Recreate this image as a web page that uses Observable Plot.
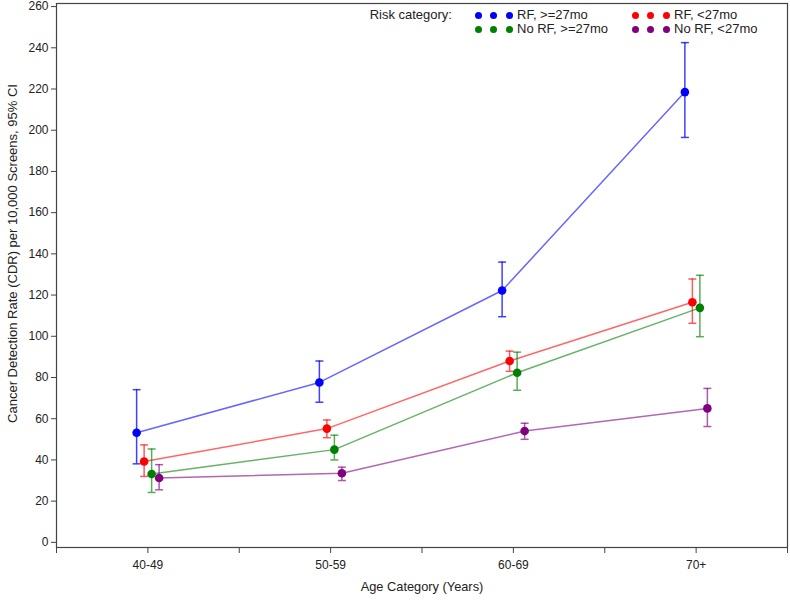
<!DOCTYPE html>
<html>
<head>
<meta charset="utf-8">
<script src="https://cdn.jsdelivr.net/npm/d3@7"></script>
<script src="https://cdn.jsdelivr.net/npm/@observablehq/plot@0.6"></script>
<style>
  body { margin: 0; background: #fff; }
  #wrap { position: relative; width: 790px; height: 600px; font-family: "Liberation Sans", Arial, sans-serif; color: #222; }
  #legend { position: absolute; left: 0; top: 0; width: 790px; height: 60px; font-size: 13px; pointer-events: none; }
  .lg { position: absolute; white-space: nowrap; line-height: 14px; }
  .dot { position: absolute; width: 7px; height: 7px; border-radius: 50%; }
</style>
</head>
<body>
<div id="wrap"><div id="legend"></div></div>
<script>
const categories = ["40-49", "50-59", "60-69", "70+"];
const seriesNames = ["RF, >=27mo", "RF, <27mo", "No RF, >=27mo", "No RF, <27mo"];
const seriesColors = ["#0000ff", "#ff0000", "#008000", "#800080"];

const rfLongEst = [53.2, 77.6, 122.2, 218.5];
const rfLongLo  = [38.1, 68.0, 109.5, 196.5];
const rfLongHi  = [74.1, 88.0, 136.0, 242.5];

const rfShortEst = [39.2, 55.2, 88.0, 116.5];
const rfShortLo  = [32.0, 50.8, 83.0, 106.3];
const rfShortHi  = [47.3, 59.4, 92.8, 127.8];

const noRfLongEst = [33.2, 45.0, 82.3, 113.8];
const noRfLongLo  = [24.2, 40.0, 73.8, 99.8];
const noRfLongHi  = [45.3, 52.0, 92.3, 129.6];

const noRfShortEst = [31.2, 33.5, 54.0, 65.0];
const noRfShortLo  = [25.5, 30.0, 50.0, 56.2];
const noRfShortHi  = [37.7, 36.5, 57.8, 74.7];

const yTicks = d3.range(0, 261, 20);

const seriesData = [
  [rfLongEst, rfLongLo, rfLongHi],
  [rfShortEst, rfShortLo, rfShortHi],
  [noRfLongEst, noRfLongLo, noRfLongHi],
  [noRfShortEst, noRfShortLo, noRfShortHi]
];
const dodge = [-11.25, -3.75, 3.75, 11.25];

const capSymbol = {
  draw(context, size) {
    const w = Math.sqrt(size) / 2;
    context.moveTo(-w, 0);
    context.lineTo(w, 0);
  }
};

const marks = [
  Plot.frame({stroke: "#444", strokeWidth: 1.2}),
  Plot.axisY(yTicks, {tickSize: 5, tickPadding: 3, label: null, fontSize: 12, stroke: "#444"}),
  Plot.axisX(d3.range(categories.length), {tickSize: 6, tickPadding: 7, tickFormat: i => categories[i], label: null, fontSize: 12, stroke: "#444"}),
  Plot.axisX(d3.range(-0.5, categories.length, 1), {tickSize: 6, text: null, label: null, stroke: "#444"}),
  Plot.text(["Cancer Detection Rate (CDR) per 10,000 Screens, 95% CI"], {frameAnchor: "left", textAnchor: "middle", dx: -44, dy: -22, rotate: -90, fontSize: 13, fill: "#222"}),
  Plot.text(["Age Category (Years)"], {frameAnchor: "bottom", dy: 43, fontSize: 12.8, fill: "#222"})
];

seriesData.forEach(([est, lo, hi], s) => {
  const rows = categories.map((c, i) => ({i, est: est[i], lo: lo[i], hi: hi[i]}));
  const color = seriesColors[s];
  const dx = dodge[s];
  const op = s === 0 ? 0.75 : 0.65;
  marks.push(
    Plot.line(rows, {x: "i", y: "est", stroke: color, strokeOpacity: 0.6, strokeWidth: 1.5, dx}),
    Plot.ruleX(rows, {x: "i", y1: "lo", y2: "hi", stroke: color, strokeOpacity: op, strokeWidth: 1.5, dx}),
    Plot.dot(rows, {x: "i", y: "lo", symbol: capSymbol, r: 4.5, stroke: color, strokeOpacity: op, strokeWidth: 1.5, dx}),
    Plot.dot(rows, {x: "i", y: "hi", symbol: capSymbol, r: 4.5, stroke: color, strokeOpacity: op, strokeWidth: 1.5, dx}),
    Plot.dot(rows, {x: "i", y: "est", r: 4.3, fill: color, stroke: "none", dx})
  );
});

const chart = Plot.plot({
  width: 790,
  height: 600,
  marginLeft: 56,
  marginRight: 3,
  marginTop: 3,
  marginBottom: 53,
  style: {fontFamily: "'Liberation Sans', Arial, sans-serif", fontSize: "12px", color: "#222", background: "#fff"},
  x: {domain: [-0.5, categories.length - 0.5], axis: null},
  y: {domain: [-2.5, 261.5], axis: null},
  marks
});
const wrap = document.getElementById("wrap");
wrap.insertBefore(chart, wrap.firstChild);

// Legend
const legend = document.getElementById("legend");
function addText(txt, left, top, align) {
  const el = document.createElement("div");
  el.className = "lg";
  el.textContent = txt;
  el.style.top = (top - 7) + "px";
  if (align === "right") { el.style.right = (790 - left) + "px"; } else { el.style.left = left + "px"; }
  legend.appendChild(el);
}
addText("Risk category:", 452, 15, "right");
const colX = [478, 635];
const rowY = [15, 29];
seriesNames.forEach((name, s) => {
  const col = s % 2, row = Math.floor(s / 2);
  for (let k = 0; k < 3; k++) {
    const d = document.createElement("div");
    d.className = "dot";
    d.style.background = seriesColors[s];
    d.style.left = (colX[col] + k * 15.5 - 3.5) + "px";
    d.style.top = (rowY[row] - 3.5) + "px";
    legend.appendChild(d);
  }
  addText(name, colX[col] + 39, rowY[row]);
});
</script>
</body>
</html>
